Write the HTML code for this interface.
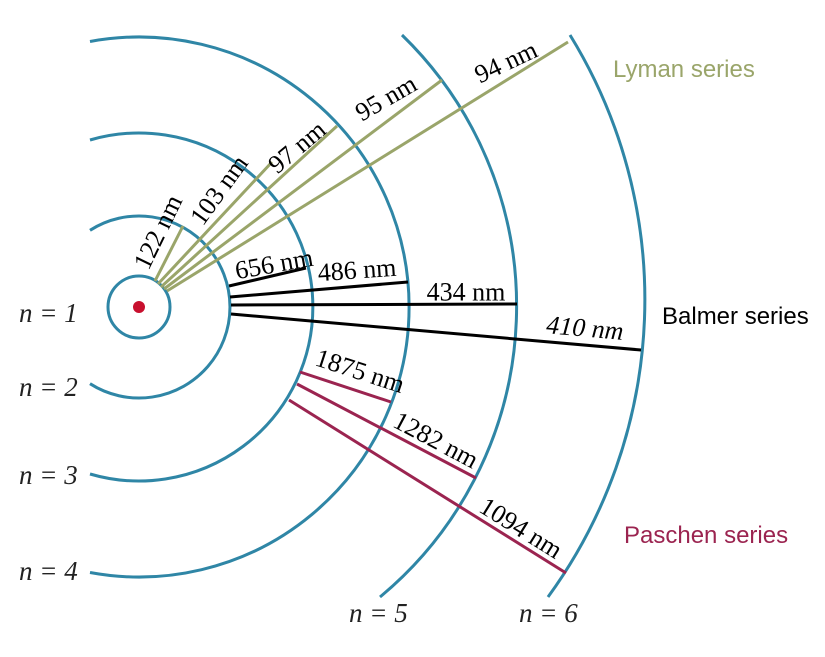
<!DOCTYPE html>
<html><head><meta charset="utf-8"><style>
html,body{margin:0;padding:0;background:#fff;}
svg{display:block;}
.orb{fill:none;stroke:#2f86a6;stroke-width:3;}
.ly{stroke:#9aa56a;stroke-width:3;}
.ba{stroke:#000;stroke-width:3;}
.pa{stroke:#9b2450;stroke-width:3;}
.wl{font-family:"Liberation Serif",serif;font-size:26px;fill:#000;text-anchor:middle;dominant-baseline:central;}
.nl{font-family:"Liberation Serif",serif;font-style:italic;font-size:27px;fill:#222;}
.sl{font-family:"Liberation Sans",sans-serif;font-size:24px;}
</style></head><body>
<svg width="825" height="657" viewBox="0 0 825 657">
<g>
<circle class="orb" cx="139" cy="307" r="31"/>
<path class="orb" d="M90,230.3 A91,91 0 1 1 90,383.7"/>
<path class="orb" d="M90,140 A174,174 0 1 1 90,474"/>
<path class="orb" d="M90,41.5 A270,270 0 1 1 90,572.5"/>
<path class="orb" d="M402,35 A378,378 0 0 1 380,597"/>
<path class="orb" d="M570,35 A505,505 0 0 1 548,597"/>
</g>
<circle cx="139" cy="307" r="6" fill="#c8102e"/>
<g>
<line class="ly" x1="155" y1="281" x2="183" y2="226"/>
<line class="ly" x1="158" y1="284" x2="272" y2="162"/>
<line class="ly" x1="161" y1="287" x2="337" y2="126"/>
<line class="ly" x1="164" y1="289" x2="442" y2="80"/>
<line class="ly" x1="167" y1="291" x2="568" y2="42"/>
</g>
<g>
<line class="ba" x1="229" y1="286" x2="306" y2="268"/>
<line class="ba" x1="230" y1="297" x2="408" y2="282"/>
<line class="ba" x1="231" y1="305" x2="517" y2="304"/>
<line class="ba" x1="231" y1="314" x2="641" y2="350"/>
</g>
<g>
<line class="pa" x1="300" y1="372" x2="391" y2="402"/>
<line class="pa" x1="297" y1="384" x2="476" y2="478"/>
<line class="pa" x1="289" y1="400" x2="566" y2="573"/>
</g>
<g>
<text class="wl" transform="translate(158,232) rotate(-64)">122 nm</text>
<text class="wl" transform="translate(219,190) rotate(-54)">103 nm</text>
<text class="wl" transform="translate(297,147) rotate(-40)">97 nm</text>
<text class="wl" transform="translate(386,98) rotate(-30)">95 nm</text>
<text class="wl" transform="translate(506,62) rotate(-25)">94 nm</text>
<text class="wl" transform="translate(274,264) rotate(-10)">656 nm</text>
<text class="wl" transform="translate(357,270) rotate(-4)">486 nm</text>
<text class="wl" x="466" y="292">434 nm</text>
<text class="wl" font-style="italic" transform="translate(585,328) rotate(5)">410 nm</text>
<text class="wl" transform="translate(360,371) rotate(18)">1875 nm</text>
<text class="wl" transform="translate(436,440) rotate(28)">1282 nm</text>
<text class="wl" transform="translate(521,528) rotate(32)">1094 nm</text>
</g>
<g>
<text class="nl" x="19" y="322">n = 1</text>
<text class="nl" x="19" y="396">n = 2</text>
<text class="nl" x="19" y="484">n = 3</text>
<text class="nl" x="19" y="580">n = 4</text>
<text class="nl" x="349" y="622">n = 5</text>
<text class="nl" x="519" y="622">n = 6</text>
</g>
<text class="sl" x="613" y="77" fill="#9aa56a">Lyman series</text>
<text class="sl" x="662" y="324" fill="#000">Balmer series</text>
<text class="sl" x="624" y="543" fill="#9b2450">Paschen series</text>
</svg>
</body></html>
